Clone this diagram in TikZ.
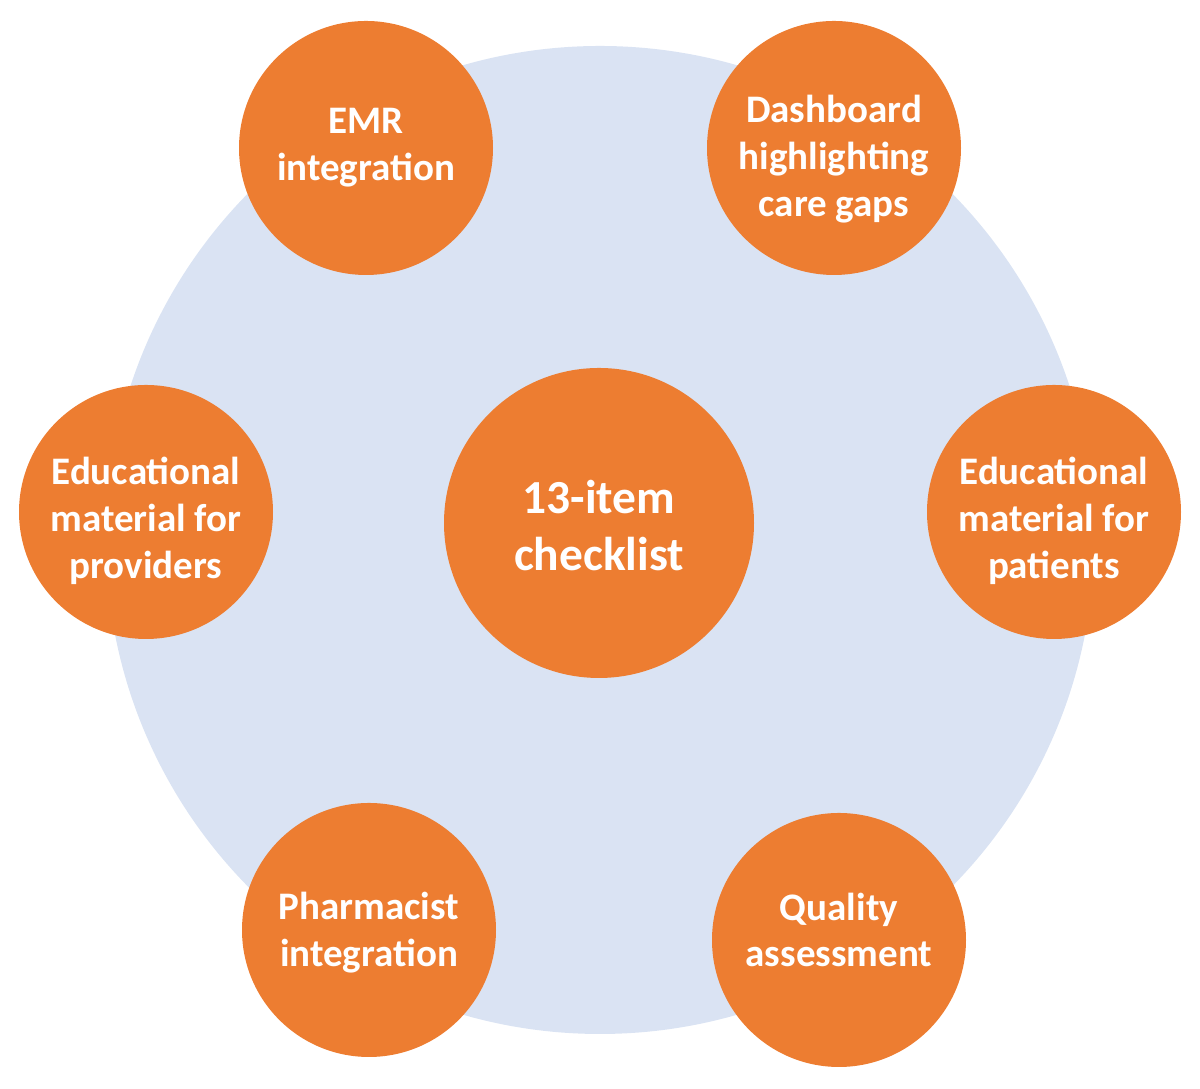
\documentclass[tikz,border=0pt]{standalone}
\usepackage{fontspec}
\setmainfont{Carlito}
\usepackage{tikz}
\definecolor{ringblue}{HTML}{DAE3F3}
\definecolor{itemorange}{HTML}{ED7D31}
\begin{document}
\begin{tikzpicture}[
  itemnode/.style={circle,fill=itemorange,minimum size=2.54cm,inner sep=0pt},
  hubnode/.style={itemnode,minimum size=3.1cm},
  itemtext/.style={text=white,align=center,inner sep=0pt,
    font=\bfseries\fontsize{11.1}{13.3}\selectfont},
  hubtext/.style={itemtext,font=\bfseries\fontsize{13.5}{16.2}\selectfont}
]
\useasboundingbox (0,0) rectangle (12,10.89);

\fill[ringblue] (6.00,5.49) circle (4.94);

\node[hubnode,label={[hubtext,yshift=-0.03cm]center:{13-item\\checklist}}] (hub) at (5.99,5.66) {};
\node[itemnode,label={[itemtext]center:{EMR\\integration}}] (emr) at (3.66,9.41) {};
\node[itemnode,label={[itemtext,yshift=-0.11cm]center:{Dashboard\\highlighting\\care gaps}}] (dash) at (8.34,9.41) {};
\node[itemnode,label={[itemtext,yshift=-0.09cm]center:{Educational\\material for\\providers}}] (prov) at (1.46,5.77) {};
\node[itemnode,label={[itemtext,yshift=-0.09cm]center:{Educational\\material for\\patients}}] (pat) at (10.54,5.77) {};
\node[itemnode,label={[itemtext,yshift=-0.03cm]center:{Pharmacist\\integration}}] (pharm) at (3.69,1.59) {};
\node[itemnode,label={[itemtext,yshift=0.10cm]center:{Quality\\assessment}}] (qual) at (8.39,1.49) {};
\end{tikzpicture}
\end{document}
